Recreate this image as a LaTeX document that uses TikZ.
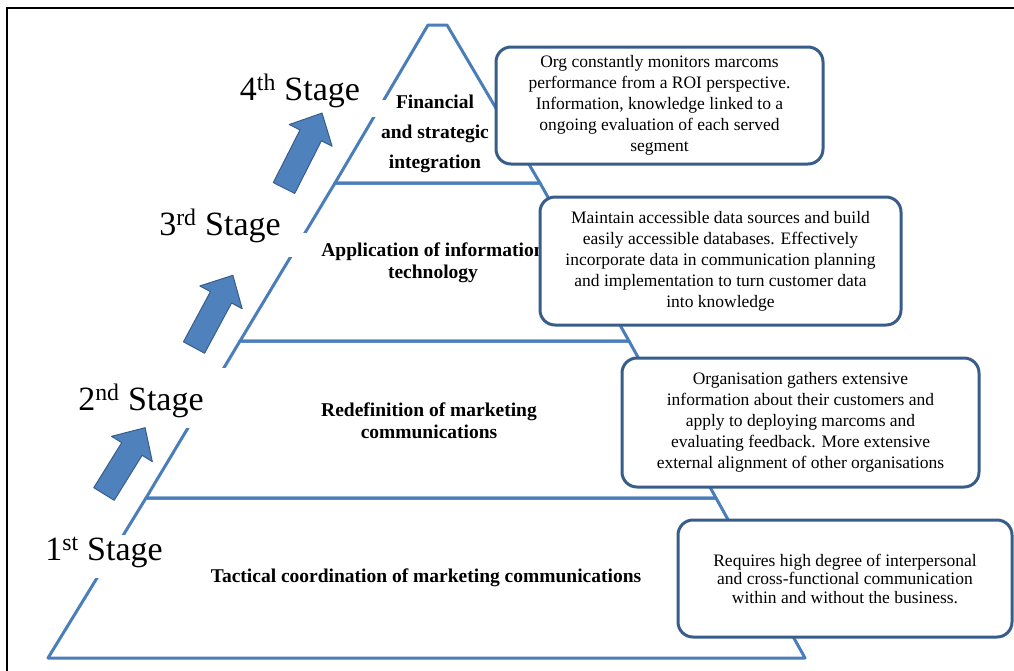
\documentclass[tikz,border=0pt]{standalone}
\usepackage{fontspec}
\setmainfont{Liberation Serif}
\definecolor{pyrblue}{HTML}{4A7EBB}
\definecolor{boxblue}{HTML}{385D8A}
\definecolor{arrowblue}{HTML}{4F81BD}
\tikzset{
  pyr/.style={draw=pyrblue, line width=3pt, line join=round},
  infobox/.style={draw=boxblue, line width=3pt, rounded corners=15pt, fill=white,
    align=center, inner sep=0pt, font=\fontsize{17.5}{21}\selectfont},
  stagelabel/.style={anchor=base, inner sep=0pt, font=\fontsize{34}{40}\selectfont},
  levellabel/.style={align=center, inner sep=0pt, font=\bfseries\fontsize{19.5}{22}\selectfont},
  arrowstyle/.style={fill=arrowblue, draw=boxblue, line width=1pt, line join=round},
  blockarrow/.pic={\path[arrowstyle] (0,-12) -- ({#1-25},-12) -- ({#1-25},-24) -- (#1,0)
    -- ({#1-25},24) -- ({#1-25},12) -- (0,12) -- cycle;}
}
\begin{document}
\begin{tikzpicture}[x=1pt,y=-1pt]
\useasboundingbox (0,0) rectangle (1014,670);
\clip (0,0) rectangle (1014,670);
\fill[white] (0,0) rectangle (1014,670);
% frame (open to the right and bottom)
\draw[line width=2pt] (7,680) -- (7,8) -- (1030,8);
% pyramid bands
\draw[pyr] (428,25) -- (447,25) -- (540,183) -- (335,183) -- cycle;
\draw[pyr] (335,183) -- (540,183) -- (629,341) -- (240,341) -- cycle;
\draw[pyr] (240,341) -- (629,341) -- (716,498) -- (146,498) -- cycle;
\draw[pyr] (146,498) -- (716,498) -- (805,658) -- (48,658) -- cycle;
% arrows
\pic[rotate=58.2] at (104,494) {blockarrow=78};
\pic[rotate=61.7] at (194,347.5) {blockarrow=82};
\pic[rotate=63.1] at (284,188) {blockarrow=84};
% label backgrounds
\fill[white] (365,100) rectangle (392,117);
\fill[white] (278,233) rectangle (316,257);
\fill[white] (178,368) rectangle (233,428);
\fill[white] (90,535) rectangle (133,578);
% stage labels
\node[stagelabel] (s4) at (300,100) {4\textsuperscript{th} Stage};
\node[stagelabel] (s3) at (220,235) {3\textsuperscript{rd} Stage};
\node[stagelabel] (s2) at (141,410) {2\textsuperscript{nd} Stage};
\node[stagelabel] (s1) at (104,560) {1\textsuperscript{st} Stage};
% level labels
\node[levellabel, font=\bfseries\fontsize{19.5}{30}\selectfont] (l4) at (435,134) {Financial\\ and strategic\\ integration};
\node[levellabel] (l3) at (433,263) {Application of information\\ technology};
\node[levellabel] (l2) at (429,421) {Redefinition of marketing\\ communications};
\node[levellabel] (l1) at (426,578) {Tactical coordination of marketing communications};
% boxes
\node[infobox, minimum width=327pt, minimum height=117pt] (b4) at (659.5,105.5)
  {Org constantly monitors marcoms\\ performance from a ROI perspective.\\ Information, knowledge linked to a\\ ongoing evaluation of each served\\ segment};
\node[infobox, minimum width=361pt, minimum height=128pt] (b3) at (720.5,261)
  {Maintain accessible data sources and build\\ easily accessible databases. Effectively\\ incorporate data in communication planning\\ and implementation to turn customer data\\ into knowledge};
\node[infobox, minimum width=357pt, minimum height=129pt] (b2) at (800.5,422.5)
  {Organisation gathers extensive\\ information about their customers and\\ apply to deploying marcoms and\\ evaluating feedback. More extensive\\ external alignment of other organisations};
\node[infobox, minimum width=334pt, minimum height=117pt, font=\fontsize{17.5}{18.5}\selectfont] (b1) at (845,578.5)
  {Requires high degree of interpersonal\\ and cross-functional communication\\ within and without the business.};
\end{tikzpicture}
\end{document}
